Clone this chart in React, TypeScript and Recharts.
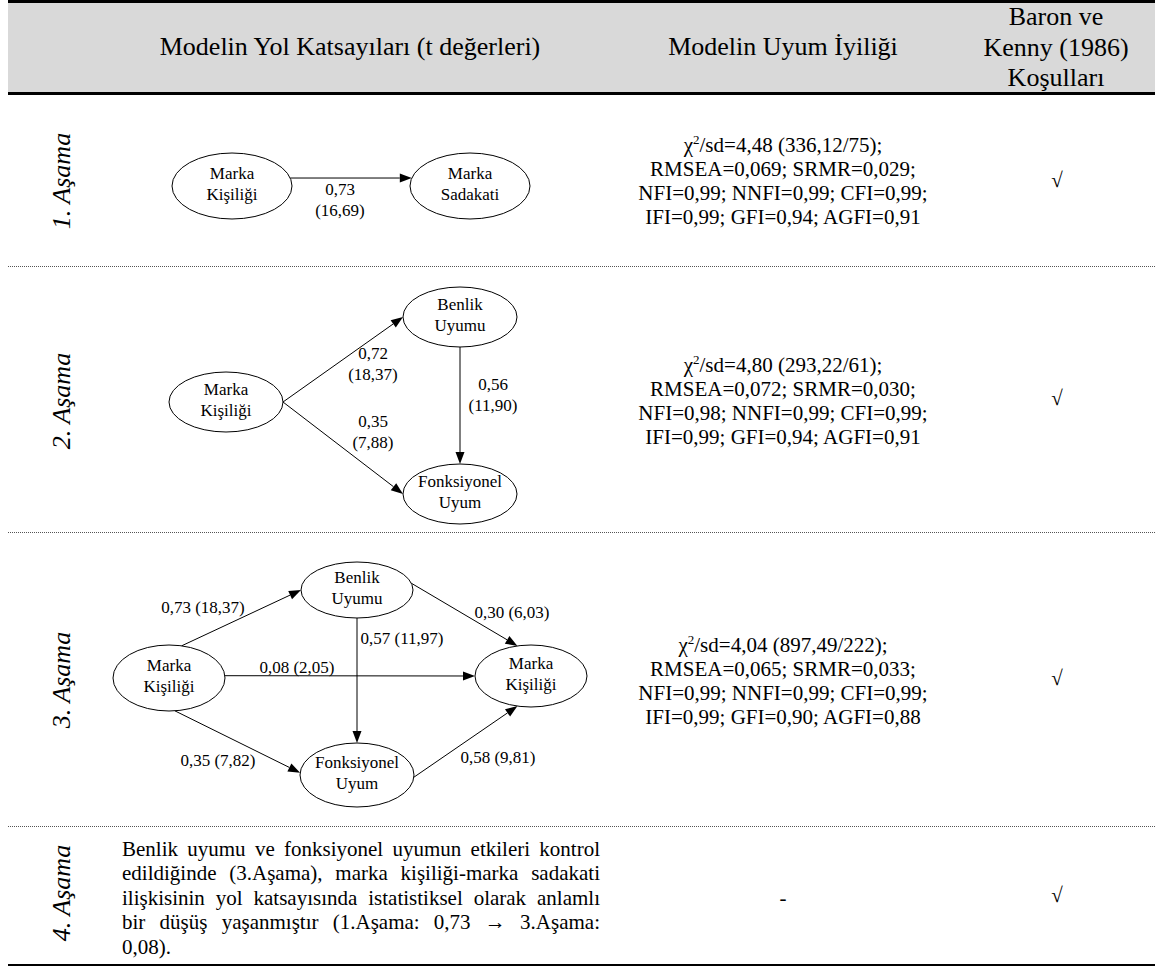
import React from 'react';
import { ScatterChart, Scatter, XAxis, YAxis, ReferenceLine } from 'recharts';

const W = 1155;
const H = 969;
const SERIF = '"Liberation Serif", "Times New Roman", serif';

const headers = ['Modelin Yol Katsayıları (t değerleri)', 'Modelin Uyum İyiliği'];
const baronLines = ['Baron ve', 'Kenny (1986)', 'Koşulları'];
const stageLabels = ['1. Aşama', '2. Aşama', '3. Aşama', '4. Aşama'];

// uyum iyiliği değerleri (aşama 1..3)
const chiSd = [4.48, 4.8, 4.04];
const chiSq = [336.12, 293.22, 897.49];
const dfs = [75, 61, 222];
const rmsea = [0.069, 0.072, 0.065];
const srmr = [0.029, 0.03, 0.033];
const nfi = [0.99, 0.98, 0.99];
const nnfi = [0.99, 0.99, 0.99];
const cfi = [0.99, 0.99, 0.99];
const ifi = [0.99, 0.99, 0.99];
const gfi = [0.94, 0.94, 0.9];
const agfi = [0.91, 0.91, 0.88];

// yol katsayıları
const nodes1 = [
  { id: 'MK', text: ['Marka', 'Kişiliği'] },
  { id: 'MS', text: ['Marka', 'Sadakati'] },
];
const paths1 = [{ from: 'MK', to: 'MS', beta: 0.73, t: 16.69 }];

const nodes2 = [
  { id: 'MK', text: ['Marka', 'Kişiliği'] },
  { id: 'BU', text: ['Benlik', 'Uyumu'] },
  { id: 'FU', text: ['Fonksiyonel', 'Uyum'] },
];
const paths2 = [
  { from: 'MK', to: 'BU', beta: 0.72, t: 18.37 },
  { from: 'BU', to: 'FU', beta: 0.56, t: 11.9 },
  { from: 'MK', to: 'FU', beta: 0.35, t: 7.88 },
];

const nodes3 = [
  { id: 'MK', text: ['Marka', 'Kişiliği'] },
  { id: 'BU', text: ['Benlik', 'Uyumu'] },
  { id: 'FU', text: ['Fonksiyonel', 'Uyum'] },
  { id: 'MS', text: ['Marka', 'Kişiliği'] },
];
const paths3 = [
  { from: 'MK', to: 'BU', beta: 0.73, t: 18.37 },
  { from: 'BU', to: 'MS', beta: 0.3, t: 6.03 },
  { from: 'BU', to: 'FU', beta: 0.57, t: 11.97 },
  { from: 'MK', to: 'MS', beta: 0.08, t: 2.05 },
  { from: 'MK', to: 'FU', beta: 0.35, t: 7.82 },
  { from: 'FU', to: 'MS', beta: 0.58, t: 9.81 },
];

const stage4Lines = [
  'Benlik uyumu ve fonksiyonel uyumun etkileri kontrol',
  'edildiğinde (3.Aşama), marka kişiliği-marka sadakati',
  'ilişkisinin yol katsayısında istatistiksel olarak anlamlı',
  'bir düşüş yaşanmıştır (1.Aşama: 0,73 → 3.Aşama:',
  '0,08).',
];

// diyagram yerleşimi (sayfa koordinatları)
const layout1 = [
  { x: 232, y: 186, rx: 60, ry: 33 },
  { x: 470, y: 186, rx: 60, ry: 33 },
];
const anchors1 = [[14, 166]];
const labelPos1 = [{ x: 340, y: 200 }];

const layout2 = [
  { x: 226, y: 402, rx: 57, ry: 30 },
  { x: 460, y: 317, rx: 57, ry: 30 },
  { x: 460, y: 494, rx: 57, ry: 30 },
];
const anchors2 = [[0, 180], [270, 90], [0, 180]];
const labelPos2 = [{ x: 373, y: 364 }, { x: 493, y: 395 }, { x: 373, y: 432 }];

const layout3 = [
  { x: 169, y: 678, rx: 56, ry: 33 },
  { x: 357, y: 590, rx: 56, ry: 28 },
  { x: 357, y: 775, rx: 57, ry: 32 },
  { x: 531, y: 676, rx: 56, ry: 31 },
];
const anchors3 = [[77, 180], [14, 104], [270, 90], [4, 180], [276, 176], [-4, 256]];
const labelPos3 = [
  { x: 203, y: 607 },
  { x: 512, y: 612 },
  { x: 402, y: 638 },
  { x: 297, y: 667 },
  { x: 218, y: 760 },
  { x: 498, y: 757 },
];

const fmt = (v: number, d = 2) => v.toFixed(d).replace('.', ',');

type Pt = { x: number; y: number };
const onEllipse = (n: { x: number; y: number; rx: number; ry: number }, deg: number): Pt => {
  const a = (deg * Math.PI) / 180;
  return { x: n.x + n.rx * Math.cos(a), y: n.y - n.ry * Math.sin(a) };
};

const Arrow = (p: any) => {
  const { x1, y1, x2, y2 } = p;
  if (x1 == null) return null;
  const a = Math.atan2(y2 - y1, x2 - x1);
  const L = 12;
  const hw = 4.5;
  const bx = x2 - L * Math.cos(a);
  const by = y2 - L * Math.sin(a);
  const pts = `${x2},${y2} ${bx - hw * Math.sin(a)},${by + hw * Math.cos(a)} ${bx + hw * Math.sin(a)},${by - hw * Math.cos(a)}`;
  return (
    <g>
      <line x1={x1} y1={y1} x2={bx} y2={by} stroke="#000" strokeWidth={1} />
      <polygon points={pts} fill="#000" />
    </g>
  );
};

const NodeShape = (p: any) => {
  const { cx, cy, payload } = p;
  const n = payload.text.length;
  return (
    <g>
      <ellipse cx={cx} cy={cy} rx={payload.rx} ry={payload.ry} fill="#fff" stroke="#000" strokeWidth={1} />
      {payload.text.map((t: string, i: number) => (
        <text key={i} x={cx} y={cy - 2 + (i - (n - 1) / 2) * 21} textAnchor="middle" dominantBaseline="central"
          fontSize={17} fontFamily={SERIF} fill="#000">{t}</text>
      ))}
    </g>
  );
};

const LabelShape = (p: any) => {
  const { cx, cy, payload } = p;
  const n = payload.lines.length;
  return (
    <g>
      {payload.lines.map((t: string, i: number) => (
        <text key={i} x={cx} y={cy + (i - (n - 1) / 2) * 21} textAnchor="middle" dominantBaseline="central"
          fontSize={17} fontFamily={SERIF} fill="#000">{t}</text>
      ))}
    </g>
  );
};

function buildStage(nodes: any[], layout: any[], paths: any[], anchors: number[][], labels: Pt[], twoLine: boolean) {
  const nodeData = nodes.map((n, i) => ({ ...n, ...layout[i] }));
  const byId: Record<string, any> = {};
  nodeData.forEach(n => (byId[n.id] = n));
  const segments = paths.map((p, i) => [onEllipse(byId[p.from], anchors[i][0]), onEllipse(byId[p.to], anchors[i][1])]);
  const labelData = paths.map((p, i) => ({
    x: labels[i].x,
    y: labels[i].y,
    lines: twoLine ? [fmt(p.beta), `(${fmt(p.t)})`] : [`${fmt(p.beta)} (${fmt(p.t)})`],
  }));
  return { nodeData, segments, labelData };
}

const stages = [
  buildStage(nodes1, layout1, paths1, anchors1, labelPos1, true),
  buildStage(nodes2, layout2, paths2, anchors2, labelPos2, true),
  buildStage(nodes3, layout3, paths3, anchors3, labelPos3, false),
];

const Abs = ({ x, y, children, style }: any) => (
  <div style={{ position: 'absolute', left: x, top: y, transform: 'translate(-50%, -50%)', whiteSpace: 'nowrap', ...style }}>
    {children}
  </div>
);

export default function App() {
  const fitBlocks = [0, 1, 2].map(i => [
    <span key="c">χ<sup style={{ fontSize: 13, verticalAlign: 'top', lineHeight: '14px' }}>2</sup>/sd={fmt(chiSd[i])} ({fmt(chiSq[i])}/{dfs[i]});</span>,
    `RMSEA=${fmt(rmsea[i], 3)}; SRMR=${fmt(srmr[i], 3)};`,
    `NFI=${fmt(nfi[i])}; NNFI=${fmt(nnfi[i])}; CFI=${fmt(cfi[i])};`,
    `IFI=${fmt(ifi[i])}; GFI=${fmt(gfi[i])}; AGFI=${fmt(agfi[i])}`,
  ]);
  const fitTop = [145, 365, 645];
  const checkY = [180, 398, 678, 895];
  const stageY = [181, 401, 680, 893];
  const dotted = [266, 532, 826];

  return (
    <div style={{ position: 'absolute', left: 0, top: 0, width: W, height: H, background: '#fff', overflow: 'hidden', fontFamily: SERIF, color: '#000' }}>
      <div style={{ position: 'absolute', left: 8, top: 0, width: W - 8, height: 95, background: '#d9d9d9', borderTop: '3px solid #000', borderBottom: '3px solid #000', boxSizing: 'border-box' }} />
      {dotted.map(y => (
        <div key={y} style={{ position: 'absolute', left: 8, top: y, width: W - 8, height: 0, borderTop: '1px dotted #555' }} />
      ))}
      <div style={{ position: 'absolute', left: 8, top: 964, width: W - 8, height: 2, background: '#000' }} />

      <div style={{ position: 'absolute', left: 0, top: 0 }}>
        <ScatterChart width={W} height={H} margin={{ top: 0, right: 0, bottom: 0, left: 0 }}>
          <XAxis type="number" dataKey="x" domain={[0, W]} hide allowDataOverflow />
          <YAxis type="number" dataKey="y" domain={[0, H]} reversed hide allowDataOverflow />
          {stages.map((s, si) =>
            s.segments.map((seg, i) => (
              <ReferenceLine key={`e${si}-${i}`} segment={seg} ifOverflow="visible" shape={Arrow} />
            ))
          )}
          {stages.map((s, si) => (
            <Scatter key={`n${si}`} data={s.nodeData} shape={NodeShape} isAnimationActive={false} />
          ))}
          {stages.map((s, si) => (
            <Scatter key={`l${si}`} data={s.labelData} shape={LabelShape} isAnimationActive={false} />
          ))}
        </ScatterChart>
      </div>

      <Abs x={350} y={47} style={{ fontSize: 26 }}>{headers[0]}</Abs>
      <Abs x={783} y={47} style={{ fontSize: 26 }}>{headers[1]}</Abs>
      <Abs x={1056} y={48} style={{ fontSize: 26, lineHeight: '30.5px', textAlign: 'center' }}>
        {baronLines.map(l => <div key={l}>{l}</div>)}
      </Abs>

      {stageLabels.map((s, i) => (
        <div key={s} style={{ position: 'absolute', left: 62, top: stageY[i], transform: 'translate(-50%, -50%) rotate(-90deg)', whiteSpace: 'nowrap', fontSize: 26, fontStyle: 'italic' }}>{s}</div>
      ))}

      {fitBlocks.map((lines, i) => (
        <div key={i} style={{ position: 'absolute', left: 583, width: 400, top: fitTop[i] - 12.5, textAlign: 'center', fontSize: 21, lineHeight: '24.3px' }}>
          {lines.map((l, j) => <div key={j} style={{ whiteSpace: 'nowrap' }}>{l}</div>)}
        </div>
      ))}

      {checkY.map((y, i) => (
        <Abs key={i} x={1057} y={y} style={{ fontSize: 21 }}>√</Abs>
      ))}
      <Abs x={783} y={898} style={{ fontSize: 21 }}>-</Abs>

      <div style={{ position: 'absolute', left: 122, width: 478, top: 849 - 12.5, fontSize: 21, lineHeight: '24.5px' }}>
        {stage4Lines.map((l, i) => (
          <div key={i} style={{ textAlign: 'justify', textAlignLast: i < stage4Lines.length - 1 ? 'justify' : 'left', whiteSpace: 'nowrap' }}>{l}</div>
        ))}
      </div>
    </div>
  );
}
